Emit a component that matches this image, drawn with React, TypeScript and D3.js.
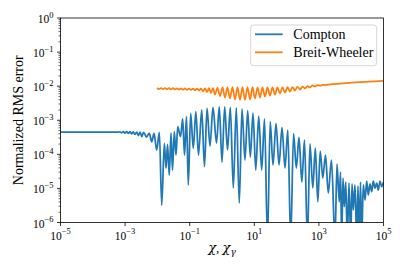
import React from "react";
import * as d3 from "d3";

// chi values and normalized RMS error
const comptonChi = [
  1e-5, 1.67e-4, 6.0e-4, 6.95e-4, 7.85e-4, 8.8e-4, 9.9e-4, 1.12e-3, 1.26e-3, 1.42e-3,
  1.6e-3, 1.79e-3, 2.03e-3, 2.29e-3, 2.58e-3, 2.91e-3, 3.29e-3, 3.72e-3, 4.6e-3, 5.61e-3,
  6.67e-3, 7.85e-3, 9.51e-3, 1.15e-2, 1.36e-2, 1.64e-2, 1.85e-2, 2.06e-2, 2.33e-2, 2.64e-2,
  2.93e-2, 3.34e-2, 3.77e-2, 4.25e-2, 5.19e-2, 6.07e-2, 6.9e-2, 7.96e-2, 9.06e-2, 0.107,
  0.129, 0.155, 0.187, 0.236, 0.287, 0.344, 0.425, 0.526, 0.676, 0.824,
  1.0, 1.21, 1.48, 1.81, 2.24, 2.77, 3.43, 4.16, 5.15, 6.25,
  7.52, 9.12, 11.1, 13.7, 16.9, 20.7, 25.6, 31.1, 37.9, 47.0,
  58.2, 72.1, 89.2, 109, 134, 164, 200, 242, 296, 358,
  441, 530, 647, 774, 925, 1100, 1320, 1600, 1950, 2450,
  3150, 3630, 4280, 4670, 5080, 5570, 6110, 6800, 7570, 8550,
  9660, 1.06e4, 1.16e4, 1.31e4, 1.48e4, 1.62e4, 1.78e4, 1.94e4, 2.11e4, 2.37e4,
  2.68e4, 3.02e4, 3.38e4, 3.82e4, 4.31e4, 4.83e4, 5.46e4, 6.15e4, 6.9e4, 7.8e4,
  8.79e4, 1e5,
];
const comptonErr = [
  4.52e-4, 4.52e-4, 4.46e-4, 4.58e-4, 4.28e-4, 4.61e-4, 4.22e-4, 4.61e-4, 4.14e-4, 4.61e-4,
  4.0e-4, 4.58e-4, 3.82e-4, 4.52e-4, 3.56e-4, 4.52e-4, 3.33e-4, 4.43e-4, 3.22e-4, 4.14e-4,
  2.34e-4, 4.14e-4, 1.34e-4, 4.43e-4, 3.26e-6, 2.1e-4, 3.89e-5, 1.97e-4, 2.47e-5, 4.22e-4,
  3.47e-5, 4.61e-4, 9.55e-5, 6.46e-4, 3.29e-4, 1.09e-3, 9.55e-5, 1.27e-3, 1.26e-5, 1.6e-3,
  1.5e-4, 1.78e-3, 9.55e-5, 2.0e-3, 4.33e-5, 2.24e-3, 1.75e-4, 2.37e-3, 2.15e-4, 2.45e-3,
  5.95e-5, 2.45e-3, 1.34e-4, 2.4e-3, 1.03e-5, 2.29e-3, 3.73e-6, 2.14e-3, 6.81e-5, 1.93e-3,
  8.34e-5, 1.63e-3, 3.47e-5, 1.33e-3, 3.47e-5, 1.09e-3, 3e-7, 9.18e-4, 4.86e-5, 8.02e-4,
  4.86e-5, 6.12e-4, 3.97e-5, 5.17e-4, 3e-7, 4.08e-4, 3.97e-5, 3.12e-4, 1.54e-5, 2.63e-4,
  3e-7, 2.01e-4, 1.03e-5, 1.53e-4, 4.07e-6, 1.25e-4, 2.02e-5, 9.55e-5, 7.33e-6, 6.81e-5,
  3e-7, 5.2e-5, 4.07e-6, 3.03e-5, 3e-7, 2.02e-5, 2.9e-6, 1.54e-5, 3e-7, 1.44e-5,
  3e-7, 1.35e-5, 2.32e-6, 1.26e-5, 3e-7, 1.18e-5, 3e-7, 1.54e-5, 3e-7, 1.26e-5,
  4.57e-6, 1.65e-5, 6.4e-6, 1.35e-5, 8.0e-6, 1.65e-5, 1.01e-5, 1.44e-5, 8.98e-6, 1.65e-5,
  1.12e-5, 1.54e-5,
];

const bwChi = [
  9.73e-3, 1.12e-2, 1.29e-2, 1.49e-2, 1.72e-2, 1.98e-2, 2.29e-2, 2.64e-2, 3.04e-2, 3.51e-2,
  4.05e-2, 4.67e-2, 5.38e-2, 6.21e-2, 7.15e-2, 8.24e-2, 9.51e-2, 0.11, 0.126, 0.146,
  0.168, 0.194, 0.224, 0.258, 0.298, 0.344, 0.396, 0.456, 0.526, 0.607,
  0.726, 0.867, 1.04, 1.24, 1.48, 1.77, 2.11, 2.53, 3.02, 3.61,
  4.31, 5.15, 6.15, 7.36, 8.79, 10.5, 12.6, 15.0, 17.9, 21.4,
  25.6, 30.6, 36.6, 43.7, 52.2, 62.5, 74.6, 89.1, 107, 127,
  152, 182, 217, 260, 310, 372, 444, 530, 634, 757,
  906, 1080, 1290, 1550, 2210, 4500, 9180, 18700, 38200, 1e5,
];
const bwErr = [
  8.83e-3, 8.15e-3, 8.83e-3, 8.15e-3, 8.83e-3, 8.09e-3, 8.77e-3, 8.03e-3, 8.71e-3, 7.98e-3,
  8.65e-3, 7.92e-3, 8.59e-3, 7.87e-3, 8.59e-3, 7.82e-3, 8.53e-3, 7.71e-3, 8.53e-3, 7.61e-3,
  8.53e-3, 7.41e-3, 8.53e-3, 7.11e-3, 8.59e-3, 6.74e-3, 8.71e-3, 6.3e-3, 8.83e-3, 5.69e-3,
  8.95e-3, 5.14e-3, 9.14e-3, 4.65e-3, 9.27e-3, 4.35e-3, 9.45e-3, 4.06e-3, 9.45e-3, 3.93e-3,
  9.45e-3, 3.93e-3, 9.45e-3, 4.06e-3, 9.31e-3, 4.35e-3, 9.27e-3, 4.65e-3, 9.14e-3, 4.98e-3,
  9.14e-3, 5.32e-3, 9.14e-3, 5.69e-3, 9.14e-3, 6.09e-3, 9.27e-3, 6.52e-3, 9.31e-3, 6.97e-3,
  9.45e-3, 7.46e-3, 9.58e-3, 7.98e-3, 9.77e-3, 8.53e-3, 1.01e-2, 9.14e-3, 1.05e-2, 9.77e-3,
  1.08e-2, 1.03e-2, 1.1e-2, 1.07e-2, 1.13e-2, 1.19e-2, 1.25e-2, 1.31e-2, 1.36e-2, 1.42e-2,
];

const seriesNames = ["Compton", "Breit-Wheeler"];
const seriesColors = ["#1f77b4", "#ff7f0e"];
const xTickExps = [-5, -3, -1, 1, 3, 5];
const yTickExps = [-6, -5, -4, -3, -2, -1, 0];

const W = 407;
const H = 271;
const left = 60.5;
const right = 383.5;
const top = 18;
const bottom = 222.5;
const font = "'Liberation Serif', 'Times New Roman', serif";
const greek = "'DejaVu Serif', serif";

const App = () => {
  const x = d3.scaleLog().domain([1e-5, 1e5]).range([left, right]);
  const y = d3.scaleLog().domain([1e-6, 1]).range([bottom, top]);

  const line = d3
    .line<[number, number]>()
    .x((d) => x(d[0]))
    .y((d) => y(d[1]))
    .curve(d3.curveMonotoneX);

  const series = [
    d3.zip(comptonChi, comptonErr) as [number, number][],
    d3.zip(bwChi, bwErr) as [number, number][],
  ];

  const minorY: number[] = [];
  yTickExps.slice(0, -1).forEach((e) => {
    for (let k = 2; k <= 9; k++) minorY.push(k * Math.pow(10, e));
  });

  const sup = (e: number) => (e < 0 ? "\u2212" + Math.abs(e) : String(e));

  return (
    <svg
      width={W}
      height={H}
      style={{ position: "absolute", left: 0, top: 0, background: "#fff" }}
      fontFamily={font}
    >
      <defs>
        <clipPath id="plot">
          <rect x={left} y={top} width={right - left} height={bottom - top} />
        </clipPath>
      </defs>

      <g clipPath="url(#plot)" fill="none" strokeWidth={1.75} strokeLinejoin="round">
        {series.map((s, i) => (
          <path key={i} d={line(s) || ""} stroke={seriesColors[i]} />
        ))}
      </g>

      <rect
        x={left}
        y={top}
        width={right - left}
        height={bottom - top}
        fill="none"
        stroke="#000"
        strokeWidth={0.8}
      />

      {/* y ticks */}
      {minorY.map((v, i) => (
        <line key={"my" + i} x1={left} x2={left - 2} y1={y(v)} y2={y(v)} stroke="#000" strokeWidth={0.6} />
      ))}
      {yTickExps.map((e) => (
        <g key={"y" + e}>
          <line x1={left} x2={left - 3.5} y1={y(Math.pow(10, e))} y2={y(Math.pow(10, e))} stroke="#000" strokeWidth={0.8} />
          <text x={left - 7} y={y(Math.pow(10, e)) + 5} textAnchor="end" fontSize={11.5} fill="#000">
            10
            <tspan dy={-5.5} fontSize={8.5}>
              {sup(e)}
            </tspan>
          </text>
        </g>
      ))}

      {/* x ticks */}
      {xTickExps.map((e) => (
        <g key={"x" + e}>
          <line x1={x(Math.pow(10, e))} x2={x(Math.pow(10, e))} y1={bottom} y2={bottom + 3.5} stroke="#000" strokeWidth={0.8} />
          <text x={x(Math.pow(10, e))} y={239.5} textAnchor="middle" fontSize={11.5} fill="#000">
            10
            <tspan dy={-5.5} fontSize={8.5}>
              {sup(e)}
            </tspan>
          </text>
        </g>
      ))}

      <text x={(left + right) / 2} y={252} textAnchor="middle" fontSize={13} fill="#000">
        <tspan fontFamily={greek} fontStyle="italic">χ</tspan>, <tspan fontFamily={greek} fontStyle="italic">χ</tspan>
        <tspan dy={3} fontSize={9} fontFamily={greek} fontStyle="italic">γ</tspan>
      </text>
      <text
        transform={`translate(19,${(top + bottom) / 2}) rotate(-90)`}
        textAnchor="middle"
        dy={4}
        fontSize={14}
        fill="#000"
      >
        Normalized RMS error
      </text>

      {/* legend */}
      <rect x={250.7} y={25} width={126} height={40.7} rx={3} fill="#fff" fillOpacity={0.8} stroke="#ccc" strokeWidth={0.8} />
      {seriesNames.map((n, i) => (
        <g key={n}>
          <line x1={255} x2={282.7} y1={34.3 + i * 18} y2={34.3 + i * 18} stroke={seriesColors[i]} strokeWidth={1.75} />
          <text x={293.3} y={39.3 + i * 18} fontSize={14} fill="#000">
            {n}
          </text>
        </g>
      ))}
    </svg>
  );
};

export default App;
